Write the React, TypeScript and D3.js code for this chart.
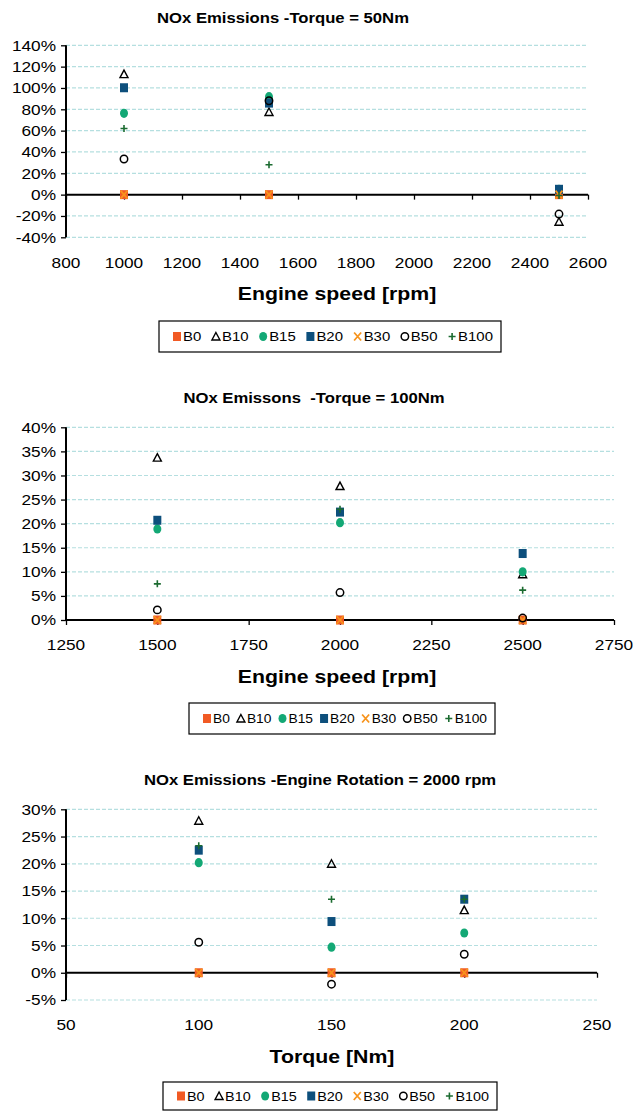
import React, { useEffect, useRef } from 'react';
import * as d3 from 'd3';

// series shared by all three charts
const seriesNames = ['B0', 'B10', 'B15', 'B20', 'B30', 'B50', 'B100'];

// chart 1: torque = 50 Nm
const speeds50 = [1000, 1500, 2500];
const b0_50 = [0, 0, 0];
const b10_50 = [1.13, 0.775, -0.254];
const b15_50 = [0.762, 0.918, 0.05];
const b20_50 = [1.002, 0.858, 0.05];
const b30_50 = [0, 0, 0];
const b50_50 = [0.334, 0.88, -0.182];
const b100_50 = [0.62, 0.28, -0.008];

// chart 2: torque = 100 Nm
const speeds100 = [1500, 2000, 2500];
const b0_100 = [0, 0, 0];
const b10_100 = [0.337, 0.278, 0.095];
const b15_100 = [0.189, 0.202, 0.1];
const b20_100 = [0.207, 0.224, 0.138];
const b30_100 = [0, 0, 0];
const b50_100 = [0.021, 0.057, 0.004];
const b100_100 = [0.075, 0.23, 0.062];

// chart 3: engine rotation = 2000 rpm
const torques = [100, 150, 200];
const b0_2000 = [0, 0, 0];
const b10_2000 = [0.279, 0.2, 0.115];
const b15_2000 = [0.202, 0.047, 0.073];
const b20_2000 = [0.225, 0.094, 0.135];
const b30_2000 = [0, 0, 0];
const b50_2000 = [0.056, -0.021, 0.034];
const b100_2000 = [0.233, 0.135, 0.135];

const xTicks50 = [800, 1000, 1200, 1400, 1600, 1800, 2000, 2200, 2400, 2600];
const yTicks50 = [-0.4, -0.2, 0, 0.2, 0.4, 0.6, 0.8, 1.0, 1.2, 1.4];
const xTicks100 = [1250, 1500, 1750, 2000, 2250, 2500, 2750];
const yTicks100 = [0, 0.05, 0.1, 0.15, 0.2, 0.25, 0.3, 0.35, 0.4];
const xTicks2000 = [50, 100, 150, 200, 250];
const yTicks2000 = [-0.05, 0, 0.05, 0.1, 0.15, 0.2, 0.25, 0.3];

const colors: Record<string, string> = {
  B0: '#f15a24',
  B10: '#000000',
  B15: '#13a875',
  B20: '#0d4f7c',
  B30: '#f7941d',
  B50: '#000000',
  B100: '#1b6b30',
};

const FONT = "'Liberation Sans', Arial, sans-serif";
// the source picture is a little stretched sideways, so text is too
const SX = 1.15;

type G = d3.Selection<SVGGElement, unknown, null, undefined>;

function stext(parent: G, x: number, y: number, str: string, size: number, anchor = 'middle', bold = false) {
  return parent.append('text')
    .attr('transform', `translate(${x},${y}) scale(${SX},1)`)
    .attr('text-anchor', anchor)
    .attr('font-family', FONT)
    .attr('font-size', size)
    .attr('font-weight', bold ? 'bold' : 'normal')
    .attr('fill', '#000')
    .style('white-space', 'pre')
    .text(str);
}

function drawMarker(g: G, name: string, cx: number, cy: number) {
  const c = colors[name];
  if (name === 'B0' || name === 'B20') {
    g.append('rect')
      .attr('x', cx - 4).attr('y', cy - 4.5)
      .attr('width', 8).attr('height', 9)
      .attr('fill', c);
  } else if (name === 'B10') {
    g.append('path')
      .attr('d', `M${cx},${cy - 4} L${cx + 4},${cy + 3.5} L${cx - 4},${cy + 3.5} Z`)
      .attr('fill', 'none').attr('stroke', c).attr('stroke-width', 1.4);
  } else if (name === 'B15') {
    g.append('ellipse')
      .attr('cx', cx).attr('cy', cy).attr('rx', 4).attr('ry', 4.6)
      .attr('fill', c);
  } else if (name === 'B30') {
    g.append('path')
      .attr('d', `M${cx - 3.5},${cy - 4} L${cx + 3.5},${cy + 4} M${cx + 3.5},${cy - 4} L${cx - 3.5},${cy + 4}`)
      .attr('stroke', c).attr('stroke-width', 1.8);
  } else if (name === 'B50') {
    g.append('circle')
      .attr('cx', cx).attr('cy', cy).attr('r', 3.7)
      .attr('fill', 'none').attr('stroke', c).attr('stroke-width', 1.5);
  } else {
    g.append('path')
      .attr('d', `M${cx - 3.5},${cy} L${cx + 3.5},${cy} M${cx},${cy - 3.5} L${cx},${cy + 3.5}`)
      .attr('stroke', c).attr('stroke-width', 1.6);
  }
}

interface ChartSpec {
  title: string;
  titleX: number;
  titleY: number;
  xs: number[];
  series: number[][];
  xDomain: [number, number];
  xRange: [number, number];
  yDomain: [number, number];
  yRange: [number, number];
  xTicks: number[];
  yTicks: number[];
  xLabelY: number;
  xTitle: string;
  xTitleX: number;
  xTitleY: number;
  legendBox: [number, number, number, number];
  legendFont: number;
}

export default function App() {
  const svgRef = useRef<SVGSVGElement>(null);

  useEffect(() => {
    if (!svgRef.current) return;
    document.body.style.margin = '0';
    const svg = d3.select(svgRef.current);
    svg.selectAll('*').remove();

    const charts: ChartSpec[] = [
      {
        title: 'NOx Emissions -Torque = 50Nm', titleX: 283, titleY: 23,
        xs: speeds50, series: [b0_50, b10_50, b15_50, b20_50, b30_50, b50_50, b100_50],
        xDomain: [800, 2600], xRange: [66, 588], yDomain: [-0.4, 1.4], yRange: [237.3, 45.3],
        xTicks: xTicks50, yTicks: yTicks50, xLabelY: 268,
        xTitle: 'Engine speed [rpm]', xTitleX: 337, xTitleY: 300,
        legendBox: [159, 321, 342, 31], legendFont: 13,
      },
      {
        title: 'NOx Emissons  -Torque = 100Nm', titleX: 314, titleY: 403,
        xs: speeds100, series: [b0_100, b10_100, b15_100, b20_100, b30_100, b50_100, b100_100],
        xDomain: [1250, 2750], xRange: [66, 614], yDomain: [0, 0.4], yRange: [620, 427.3],
        xTicks: xTicks100, yTicks: yTicks100, xLabelY: 650,
        xTitle: 'Engine speed [rpm]', xTitleX: 337, xTitleY: 683,
        legendBox: [189, 703, 306, 31], legendFont: 12,
      },
      {
        title: 'NOx Emissions -Engine Rotation = 2000 rpm', titleX: 320, titleY: 785,
        xs: torques, series: [b0_2000, b10_2000, b15_2000, b20_2000, b30_2000, b50_2000, b100_2000],
        xDomain: [50, 250], xRange: [66, 597], yDomain: [-0.05, 0.3], yRange: [1000, 809.3],
        xTicks: xTicks2000, yTicks: yTicks2000, xLabelY: 1030,
        xTitle: 'Torque [Nm]', xTitleX: 332, xTitleY: 1063,
        legendBox: [163, 1082, 334, 28], legendFont: 12.5,
      },
    ];

    charts.forEach(ch => {
      const g = svg.append('g') as unknown as G;
      const x = d3.scaleLinear().domain(ch.xDomain).range(ch.xRange);
      const y = d3.scaleLinear().domain(ch.yDomain).range(ch.yRange);
      const [x0, x1] = ch.xRange;

      stext(g, ch.titleX, ch.titleY, ch.title, 14.5, 'middle', true);

      // gridlines (dashed), the zero line is the x axis
      g.selectAll('line.grid')
        .data(ch.yTicks.filter(t => Math.abs(t) > 1e-9))
        .join('line')
        .attr('x1', x0).attr('x2', x1)
        .attr('y1', d => y(d)).attr('y2', d => y(d))
        .attr('stroke', '#b5dfe0').attr('stroke-width', 1.2)
        .attr('stroke-dasharray', '4,2');

      // y axis
      const yAxis = g.append('g')
        .attr('transform', `translate(${x0},0)`)
        .call(d3.axisLeft(y).tickValues(ch.yTicks).tickSize(5).tickFormat(() => ''));
      yAxis.select('.domain').attr('stroke', '#000').attr('stroke-width', 2)
        .attr('d', `M0,${ch.yRange[0]}V${ch.yRange[1]}`);
      yAxis.selectAll('.tick line').attr('stroke', '#000').attr('stroke-width', 1.3);
      ch.yTicks.forEach(t => {
        stext(g, x0 - 10, y(t) + 5.3, `${Math.round(t * 100)}%`, 15, 'end');
      });

      // x axis along zero
      const xAxis = g.append('g')
        .attr('transform', `translate(0,${y(0)})`)
        .call(d3.axisBottom(x).tickValues(ch.xTicks).tickSize(5).tickFormat(() => ''));
      xAxis.select('.domain').attr('stroke', '#000').attr('stroke-width', 2)
        .attr('d', `M${x0},0H${x1}`);
      xAxis.selectAll('.tick line').attr('stroke', '#000').attr('stroke-width', 1.3);

      // x tick labels sit below the plot
      ch.xTicks.forEach(t => {
        stext(g, x(t), ch.xLabelY, String(t), 15, 'middle');
      });

      stext(g, ch.xTitleX, ch.xTitleY, ch.xTitle, 18.5, 'middle', true);

      // points
      seriesNames.forEach((name, si) => {
        const sg = g.append('g') as unknown as G;
        ch.series[si].forEach((v, i) => drawMarker(sg, name, x(ch.xs[i]), y(v)));
      });

      // legend
      const [lx, ly, lw, lh] = ch.legendBox;
      const lg = g.append('g') as unknown as G;
      lg.append('rect')
        .attr('x', lx).attr('y', ly).attr('width', lw).attr('height', lh)
        .attr('fill', '#fff').attr('stroke', '#000').attr('stroke-width', 1.2);
      const cy = ly + lh / 2;
      const items = seriesNames.map(name => {
        const ig = lg.append('g') as unknown as G;
        drawMarker(ig, name, 0, 0);
        const t = stext(ig, 6, ch.legendFont * 0.36, name, ch.legendFont, 'start');
        const w = (t.node() as SVGTextElement).getComputedTextLength() * SX;
        return { ig, w: 4 + 6 + w };
      });
      const padL = 14, padR = 8;
      const total = d3.sum(items, d => d.w);
      const gap = (lw - padL - padR - total) / (items.length - 1);
      let cx = lx + padL + 4;
      items.forEach(it => {
        it.ig.attr('transform', `translate(${cx},${cy})`);
        cx += it.w + gap;
      });
    });
  }, []);

  return <svg ref={svgRef} width={633} height={1112} style={{ display: 'block', background: '#fff' }} />;
}
